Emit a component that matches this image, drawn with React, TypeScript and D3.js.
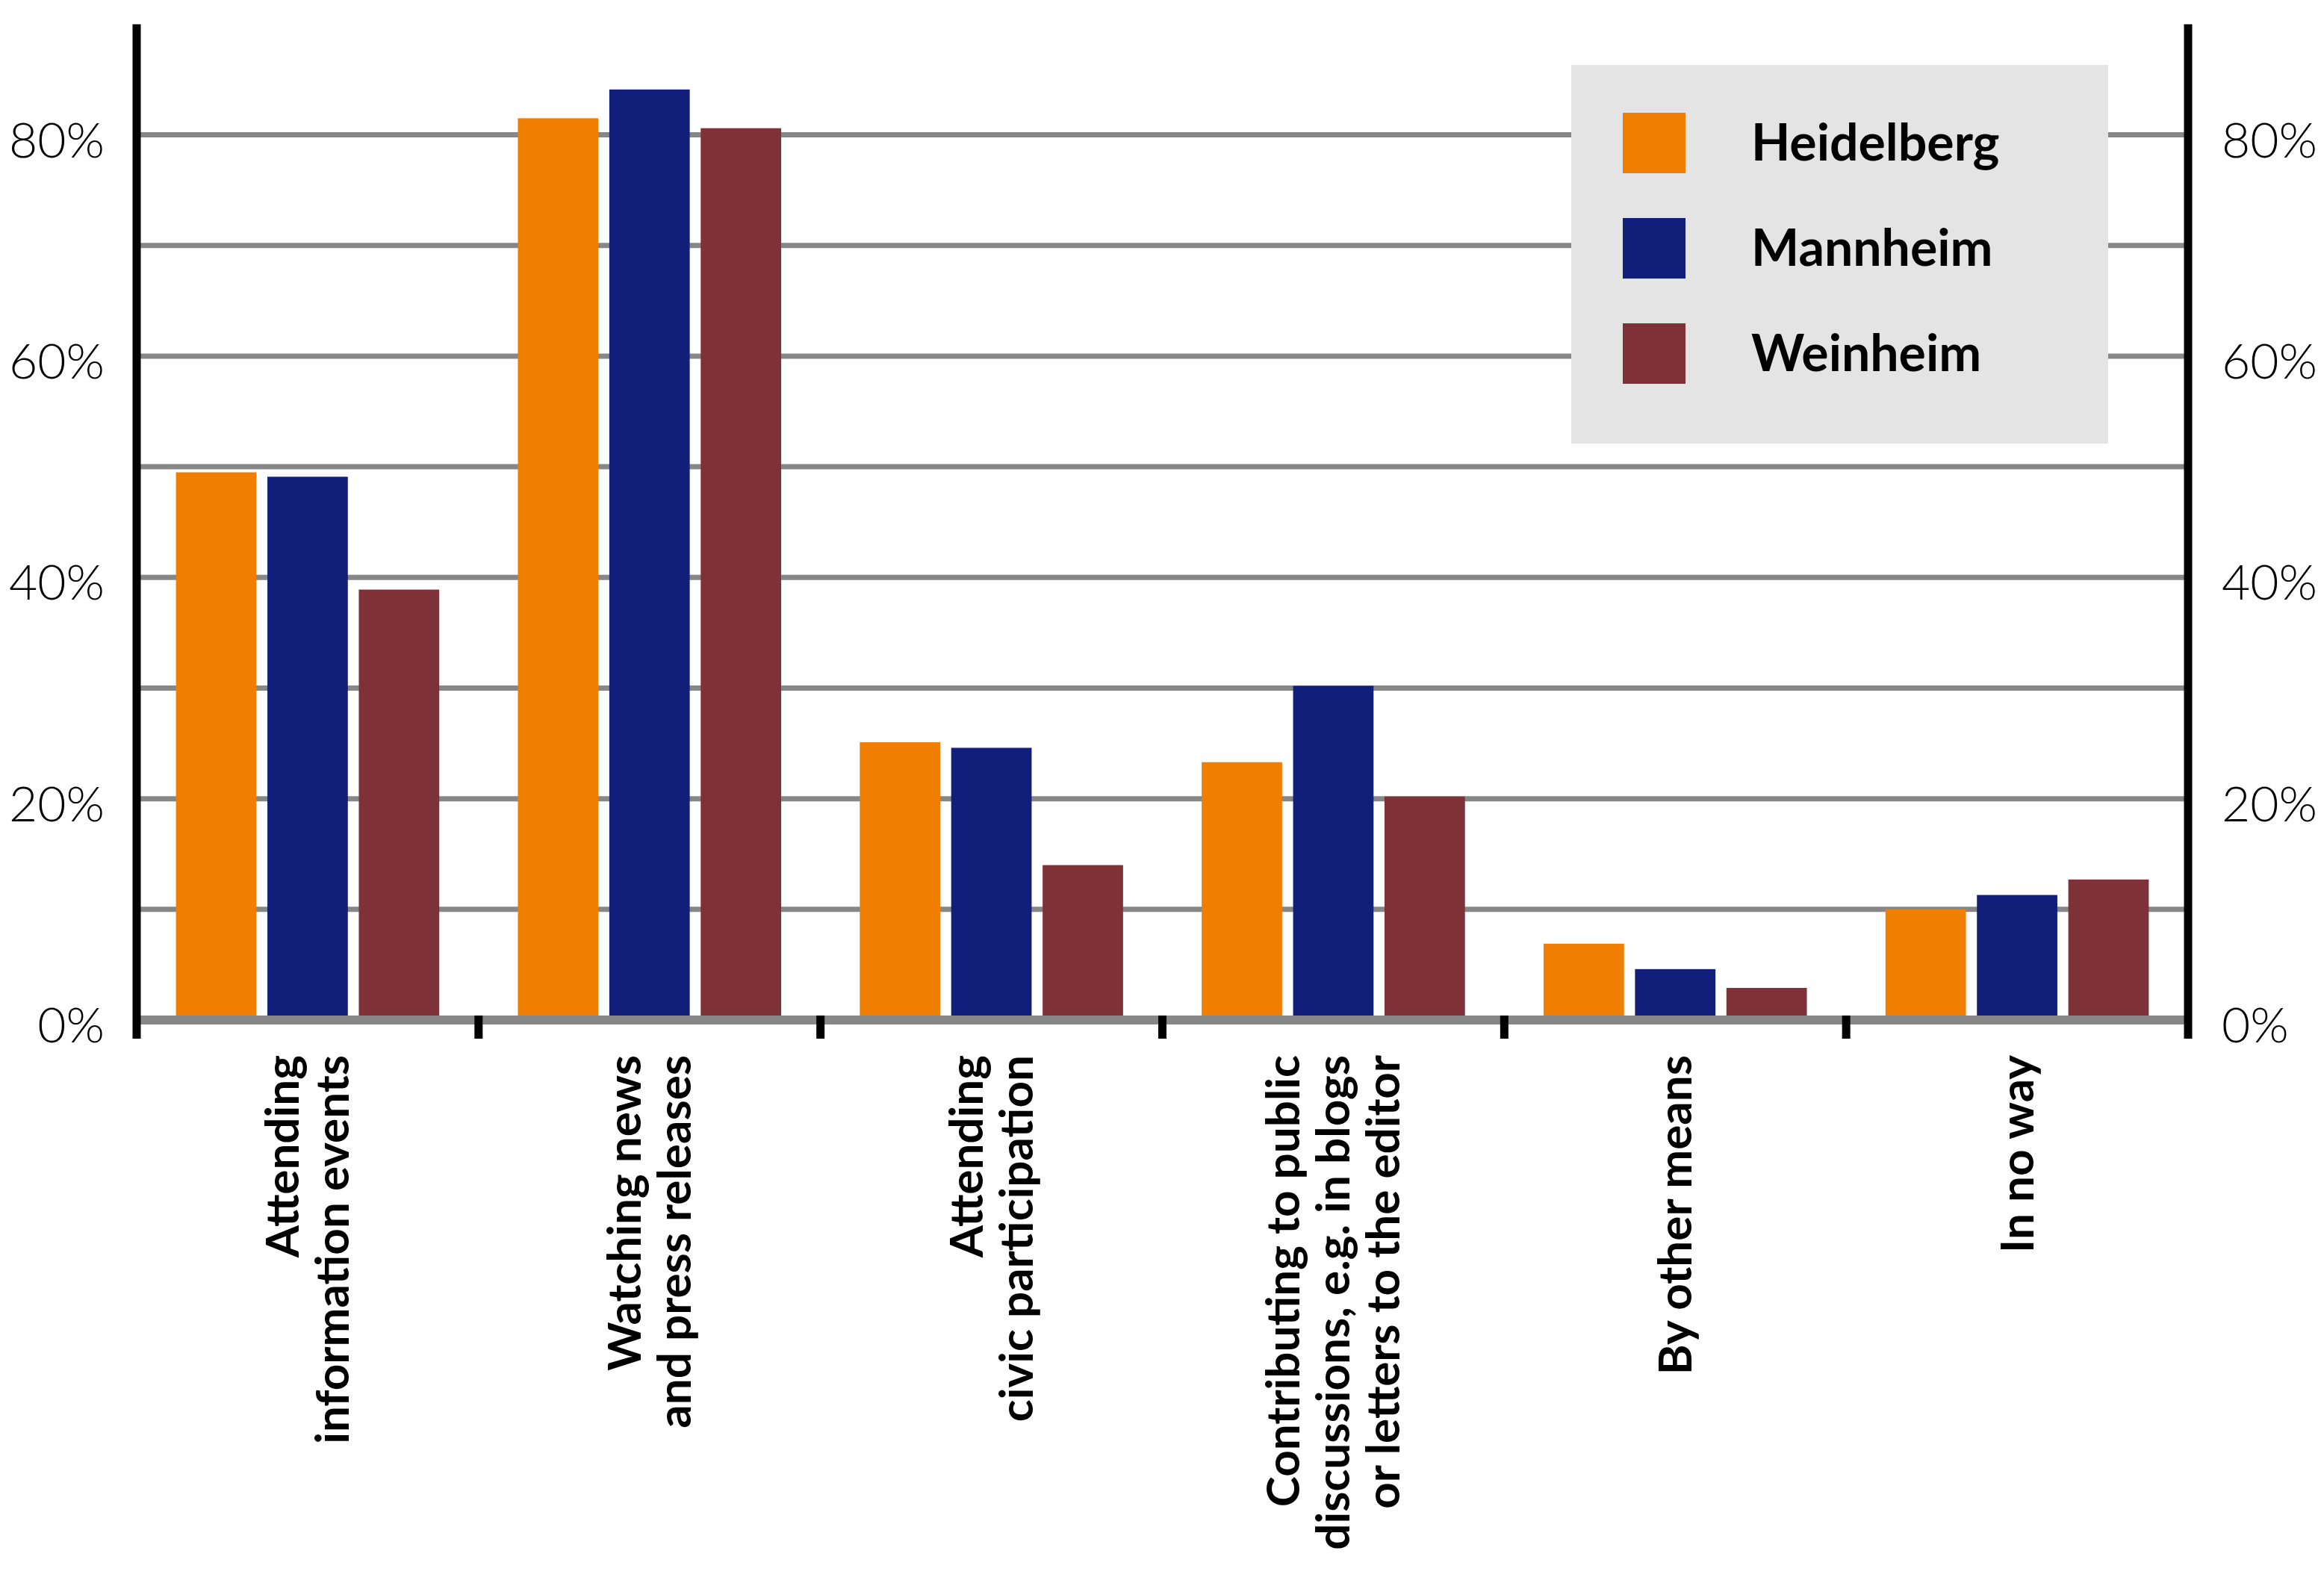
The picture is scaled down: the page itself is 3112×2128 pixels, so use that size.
import React, { useEffect, useRef } from 'react';
import * as d3 from 'd3';

// category labels, one entry per line
const categories = [
  ['Attending', 'information events'],
  ['Watching news', 'and press releases'],
  ['Attending', 'civic participation'],
  ['Contributing to public', 'discussions, e.g. in blogs', 'or letters to the editor'],
  ['By other means'],
  ['In no way'],
];

const cities = ['Heidelberg', 'Mannheim', 'Weinheim'];
const cityColors = ['#f07e00', '#121f7a', '#7f3138'];

// percentages per category
const heidelberg = [49.5, 81.5, 25.1, 23.3, 6.9, 10.0];
const mannheim = [49.1, 84.1, 24.6, 30.2, 4.6, 11.3];
const weinheim = [38.9, 80.6, 14.0, 20.2, 2.9, 12.7];

const yLabelTicks = [0, 20, 40, 60, 80];

const W = 3112;
const H = 2128;

const App = () => {
  const ref = useRef<SVGSVGElement | null>(null);

  useEffect(() => {
    const svg = d3.select(ref.current);
    svg.selectAll('*').remove();

    const series = [heidelberg, mannheim, weinheim];
    const rows = categories.map((c, i) => ({
      key: String(i),
      lines: c,
      values: cities.map((city, j) => ({ city, value: series[j][i] })),
    }));

    const left = 183;
    const right = 2930;
    const x0 = d3.scaleBand().domain(rows.map(d => d.key)).range([left, right]).padding(0);
    const x1 = d3.scaleBand().domain(cities).range([0, x0.bandwidth()])
      .paddingInner(0.12).paddingOuter(0.43);
    const y = d3.scaleLinear().domain([0, 90]).range([1366, 32.4]);
    const color = d3.scaleOrdinal<string, string>().domain(cities).range(cityColors);

    // gridlines
    svg.append('g')
      .attr('stroke', '#878787')
      .attr('stroke-width', 7)
      .selectAll('line')
      .data(y.ticks(9).filter(t => t > 0 && t <= 80))
      .join('line')
      .attr('x1', left)
      .attr('x2', right)
      .attr('y1', d => y(d))
      .attr('y2', d => y(d));

    // bars
    const group = svg.append('g')
      .selectAll('g')
      .data(rows)
      .join('g')
      .attr('transform', d => `translate(${x0(d.key)},0)`);

    group.selectAll('rect')
      .data(d => d.values)
      .join('rect')
      .attr('x', d => x1(d.city)!)
      .attr('width', x1.bandwidth())
      .attr('y', d => y(d.value))
      .attr('height', d => y(0) - y(d.value))
      .attr('fill', d => color(d.city));

    // baseline
    svg.append('line')
      .attr('x1', left).attr('x2', right)
      .attr('y1', y(0)).attr('y2', y(0))
      .attr('stroke', '#878787')
      .attr('stroke-width', 12);

    // ticks at category boundaries
    const bounds = rows.map(d => x0(d.key)!).concat([right]);
    svg.append('g')
      .attr('stroke', '#000')
      .attr('stroke-width', 11)
      .selectAll('line')
      .data(bounds)
      .join('line')
      .attr('x1', d => d).attr('x2', d => d)
      .attr('y1', (d, i) => (i === 0 || i === bounds.length - 1) ? y(90) : y(0) - 6)
      .attr('y2', y(0) + 25);

    // y labels both sides
    const yl = svg.append('g')
      .attr('font-family', 'Lato, "Open Sans", sans-serif')
      .attr('font-weight', 300)
      .attr('font-size', 66)
      .attr('fill', '#000');
    yl.selectAll('text.l')
      .data(yLabelTicks)
      .join('text')
      .attr('class', 'l')
      .attr('x', left - 43)
      .attr('y', d => y(d) + 30)
      .attr('text-anchor', 'end')
      .text(d => `${d}%`);
    yl.selectAll('text.r')
      .data(yLabelTicks)
      .join('text')
      .attr('class', 'r')
      .attr('x', right + 45)
      .attr('y', d => y(d) + 30)
      .attr('text-anchor', 'start')
      .text(d => `${d}%`);

    // category labels, rotated
    const fs = 62;
    const lineGap = 67;
    const lab = svg.append('g')
      .attr('font-family', 'Lato, "Open Sans", sans-serif')
      .attr('font-weight', 700)
      .attr('font-size', fs)
      .attr('fill', '#000');
    rows.forEach(r => {
      const cx = x0(r.key)! + x0.bandwidth() / 2;
      const n = r.lines.length;
      r.lines.forEach((line, i) => {
        const lx = cx + (i - (n - 1) / 2) * lineGap + fs * 0.35;
        lab.append('text')
          .attr('transform', `translate(${lx},1413) rotate(-90)`)
          .attr('text-anchor', 'end')
          .text(line);
      });
    });

    // legend
    const legend = svg.append('g');
    legend.append('rect')
      .attr('x', 2104).attr('y', 87)
      .attr('width', 719).attr('height', 507)
      .attr('fill', '#e4e4e4');
    const item = legend.selectAll('g')
      .data(cities)
      .join('g')
      .attr('transform', (d, i) => `translate(2173,${151 + i * 141})`);
    item.append('rect')
      .attr('width', 84).attr('height', 81)
      .attr('fill', d => color(d));
    item.append('text')
      .attr('x', 172)
      .attr('y', 40.5)
      .attr('dy', '0.35em')
      .attr('font-family', 'Lato, "Open Sans", sans-serif')
      .attr('font-weight', 700)
      .attr('font-size', 68)
      .attr('fill', '#000')
      .text(d => d);
  }, []);

  return (
    <svg
      ref={ref}
      width={W}
      height={H}
      viewBox={`0 0 ${W} ${H}`}
      style={{ position: 'absolute', left: 0, top: 0, background: '#fff' }}
    />
  );
};

export default App;
